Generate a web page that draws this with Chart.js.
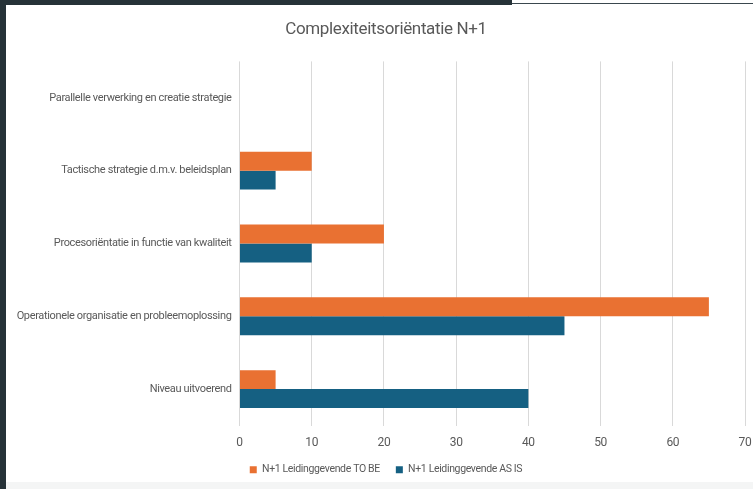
<!DOCTYPE html>
<html>
<head>
<meta charset="utf-8">
<title>Complexiteitsoriëntatie N+1</title>
<script src="https://cdn.jsdelivr.net/npm/chart.js@4.4.1/dist/chart.umd.min.js"></script>
<style>
  html, body { margin: 0; padding: 0; width: 753px; height: 489px; overflow: hidden; background: #ffffff; }
  .edge-left { position: absolute; left: 0; top: 0; width: 6px; height: 489px; background: #263238; }
  .edge-top { position: absolute; left: 0; top: 0; width: 512px; height: 5px; background: #263238; }
  .edge-line { position: absolute; left: 512px; top: 3px; width: 241px; height: 1px; background: #3a474e; }
  .edge-bottom { position: absolute; left: 6px; top: 482px; width: 747px; height: 7px; background: #f4f5f5; }
  #wrap { position: absolute; left: 6px; top: 5px; width: 760px; height: 484px; }
</style>
</head>
<body>
<div id="wrap"><canvas id="chartComplexity" width="760" height="484"></canvas></div>
<div class="edge-left"></div>
<div class="edge-top"></div>
<div class="edge-line"></div>
<div class="edge-bottom"></div>
<script>
// categories, top to bottom
const categories = [
  'Parallelle verwerking en creatie strategie',
  'Tactische strategie d.m.v. beleidsplan',
  'Procesoriëntatie in functie van kwaliteit',
  'Operationele organisatie en probleemoplossing',
  'Niveau uitvoerend'
];
const seriesNames = ['N+1 Leidinggevende TO BE', 'N+1 Leidinggevende AS IS'];
const toBeValues = [0, 10, 20, 65, 5];
const asIsValues = [0, 5, 10, 45, 40];
const axisMin = 0;
const axisMax = 70;
const axisStep = 10;

const FONT = "'Roboto', 'Liberation Sans', sans-serif";
const TEXT = '#595959';

// no narrow font installed, so tighten the letters a little instead
const tightText = {
  id: 'tightText',
  beforeUpdate(chart) { chart.ctx.letterSpacing = '-0.35px'; },
  beforeDraw(chart) { chart.ctx.letterSpacing = '-0.35px'; }
};

/**
 * Render the complexity orientation bar chart
 */
function renderComplexityChart() {
  const ctx = document.getElementById('chartComplexity').getContext('2d');

  return new Chart(ctx, {
    type: 'bar',
    plugins: [tightText],
    data: {
      labels: categories,
      datasets: [
        {
          label: seriesNames[0],
          data: toBeValues,
          backgroundColor: '#e97132',
          borderWidth: 0,
          barPercentage: 1,
          categoryPercentage: 0.52
        },
        {
          label: seriesNames[1],
          data: asIsValues,
          backgroundColor: '#156082',
          borderWidth: 0,
          barPercentage: 1,
          categoryPercentage: 0.52
        }
      ]
    },
    options: {
      responsive: false,
      animation: false,
      indexAxis: 'y',
      layout: { padding: { left: 21, right: 21, top: 0, bottom: 4 } },
      plugins: {
        title: {
          display: true,
          text: 'Complexiteitsoriëntatie N+1',
          color: TEXT,
          font: { family: FONT, size: 17, weight: 'normal' },
          padding: { top: 15, bottom: 21 }
        },
        legend: {
          position: 'bottom',
          labels: {
            color: TEXT,
            font: { family: FONT, size: 10.5 },
            boxWidth: 7,
            boxHeight: 7,
            padding: 16
          }
        },
        tooltip: { enabled: false }
      },
      scales: {
        x: {
          min: axisMin,
          max: axisMax,
          ticks: { stepSize: axisStep, color: TEXT, font: { family: FONT, size: 12 }, padding: 10 },
          grid: { color: '#d9d9d9', lineWidth: 1, drawTicks: false },
          border: { display: false },
          afterFit: scale => { scale.height = 23; }
        },
        y: {
          ticks: { color: TEXT, font: { family: FONT, size: 11 }, padding: 8 },
          grid: { display: false, drawTicks: false },
          border: { display: false },
          afterFit: scale => { scale.width = 212.5; },
          // long category names run into the left padding, don't clip them
          afterUpdate: scale => { scale._computeLabelArea = () => undefined; }
        }
      }
    }
  });
}

renderComplexityChart();
</script>
</body>
</html>
